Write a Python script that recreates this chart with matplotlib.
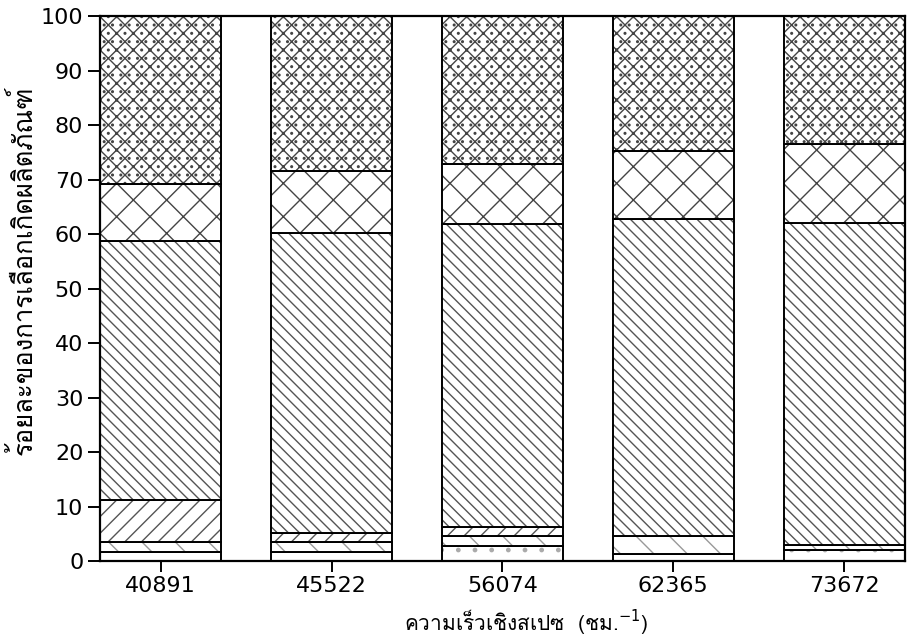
"""Stacked percentage bars of product selectivity vs space velocity (hatched, b/w)."""
import matplotlib
matplotlib.use("Agg")
import matplotlib.pyplot as plt
from matplotlib import font_manager, ft2font
import numpy as np

# space velocity (h^-1) per bar
velocity = ["40891", "45522", "56074", "62365", "73672"]

# segment shares (%) bottom -> top
seg_a = [1.7, 1.7, 2.7, 1.3, 2.0]
seg_b = [1.8, 1.7, 1.8, 3.3, 1.0]
seg_c = [7.7, 1.8, 1.7, 0.0, 0.0]
seg_d = [47.5, 54.9, 55.6, 58.2, 59.0]
seg_e = [10.5, 11.4, 11.0, 12.4, 14.5]
seg_f = [30.8, 28.5, 27.2, 24.8, 23.5]

y_ticks = [0, 10, 20, 30, 40, 50, 60, 70, 80, 90, 100]
x_label = "ความเร็วเชิงสเปซ  (ชม.$^{-1}$)"
y_label = "ร้อยละของการเลือกเกิดผลิตภัณฑ์"


def thai_family():
    # first installed font that has Thai glyphs, if any
    for f in font_manager.fontManager.ttflist:
        try:
            if 0x0E04 in ft2font.FT2Font(f.fname).get_charmap():
                return f.name
        except Exception:
            continue
    return "DejaVu Sans"


TH = [thai_family(), "DejaVu Sans"]

fig = plt.figure(figsize=(9.12, 6.4), dpi=100)
ax = fig.add_axes([0.1096, 0.1234, 0.8826, 0.8516])

x = np.arange(len(velocity))
w = 0.71
layers = [
    (seg_a, ".", "#aaaaaa"),
    (seg_b, "\\", "#999999"),
    (seg_c, "//", "#555555"),
    (seg_d, "\\\\\\", "#555555"),
    (seg_e, "x", "#444444"),
    (seg_f, "xx..", "#444444"),
]
bottom = np.zeros(len(velocity))
for vals, hatch, col in layers:
    vals = np.asarray(vals)
    ax.bar(x, vals, w, bottom=bottom, color="white", edgecolor=col,
           hatch=hatch, linewidth=0)
    ax.bar(x, vals, w, bottom=bottom, fill=False, edgecolor="black",
           linewidth=1.4)
    bottom += vals

ax.set_xlim(-w / 2, len(velocity) - 1 + w / 2)
ax.set_ylim(0, 100)
ax.set_xticks(x)
ax.set_xticklabels(velocity)
ax.set_yticks(y_ticks)
ax.tick_params(direction="out", length=9, width=1.4, labelsize=16, pad=3)
ax.tick_params(axis="x", length=8, pad=3)
for s in ax.spines.values():
    s.set_linewidth(1.6)

ax.set_xlabel(x_label, family=TH, fontsize=15)
ax.xaxis.set_label_coords(0.53, -0.085)
ax.set_ylabel(y_label, family=TH, fontsize=18.5)
ax.yaxis.set_label_coords(-0.078, 0.533)

fig.savefig("out.png", dpi=100)
